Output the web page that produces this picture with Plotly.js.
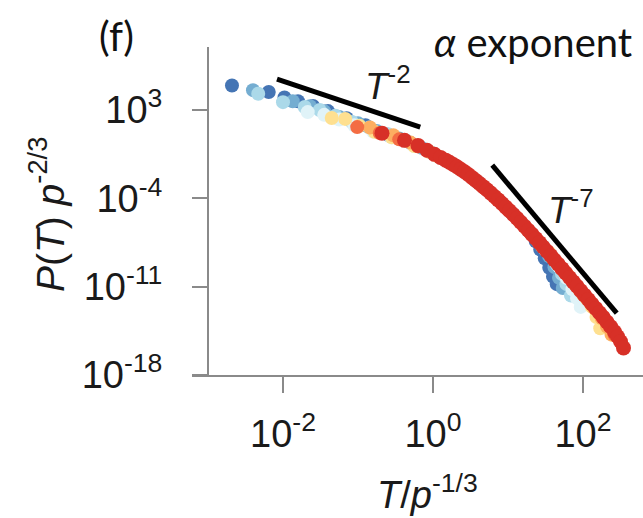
<!DOCTYPE html>
<html>
<head>
<meta charset="utf-8">
<script src="https://cdn.plot.ly/plotly-3.0.1.min.js"></script>
<style>
  html, body { margin: 0; padding: 0; background: #fff; }
  #chart { width: 643px; height: 518px; }
</style>
</head>
<body>
<div id="chart"></div>
<script>
// Scaling collapse of P(T) for several p values.
// Values are stored as base-10 exponents of T/p^-1/3 and P(T) p^-2/3.

const seriesColors = ['#4575b4', '#74add1', '#abd9e9', '#e0f3f8', '#fee090', '#fdae61', '#f46d43', '#d73027'];

const p1LogX = [-2.68, -2.19, -1.98, -1.80, -1.60, -1.40, -1.15, -0.90, -0.60, -0.30, 0.00, 0.30, 0.60, 0.90, 1.15, 1.30, 1.37, 1.43, 1.49, 1.55, 1.60, 1.65];
const p1LogY = [4.95, 4.43, 4.00, 3.70, 3.32, 2.92, 2.35, 1.80, 1.05, 0.40, -0.45, -1.42, -2.72, -4.28, -5.77, -6.75, -7.40, -8.05, -8.75, -9.50, -10.2, -10.8];

const p2LogX = [-2.40, -1.87, -1.64, -1.45, -1.25, -1.00, -0.75, -0.45, -0.15, 0.15, 0.45, 0.75, 1.05, 1.30, 1.45, 1.55, 1.62, 1.68, 1.73];
const p2LogY = [4.58, 3.70, 3.30, 2.90, 2.45, 1.95, 1.35, 0.75, 0.00, -0.91, -2.02, -3.48, -5.16, -6.72, -7.75, -8.60, -9.45, -10.3, -11.1];

const p3LogX = [-2.33, -2.00, -1.71, -1.51, -1.30, -1.08, -0.85, -0.60, -0.35, -0.05, 0.25, 0.55, 0.85, 1.15, 1.40, 1.55, 1.65, 1.72, 1.78, 1.84];
const p3LogY = [4.30, 3.63, 3.24, 3.00, 2.55, 2.05, 1.62, 1.08, 0.55, -0.28, -1.24, -2.48, -4.01, -5.77, -7.38, -8.40, -9.25, -10.0, -10.8, -11.7];

const p4LogX = [-1.67, -1.45, -1.25, -1.05, -0.80, -0.55, -0.25, 0.05, 0.35, 0.65, 0.95, 1.25, 1.50, 1.68, 1.78, 1.86, 1.92, 1.97];
const p4LogY = [2.84, 2.62, 2.25, 1.80, 1.30, 0.82, 0.15, -0.65, -1.65, -3.00, -4.60, -6.45, -8.10, -9.40, -10.3, -11.2, -11.9, -12.6];

const p5LogX = [-1.35, -1.17, -0.98, -0.78, -0.55, -0.25, 0.05, 0.35, 0.65, 0.95, 1.25, 1.55, 1.80, 1.95, 2.05, 2.12, 2.18, 2.23];
const p5LogY = [2.37, 2.30, 1.75, 1.28, 0.85, 0.15, -0.62, -1.62, -2.98, -4.58, -6.42, -8.30, -10.1, -11.2, -11.95, -12.6, -13.4, -14.3];

const p6LogX = [-0.84, -0.53, -0.30, -0.05, 0.25, 0.55, 0.85, 1.15, 1.45, 1.75, 2.00, 2.15, 2.25, 2.32, 2.38];
const p6LogY = [1.62, 1.01, 0.42, -0.30, -1.25, -2.50, -4.03, -5.80, -7.75, -9.80, -11.6, -12.7, -13.5, -14.15, -14.8];

const p7LogX = [-1.01, -0.71, -0.45, -0.20, 0.10, 0.40, 0.70, 1.00, 1.30, 1.60, 1.90, 2.10, 2.25, 2.35, 2.42];
const p7LogY = [1.65, 1.18, 0.68, 0.12, -0.77, -1.82, -3.24, -4.88, -6.74, -8.76, -10.85, -12.3, -13.3, -14.1, -14.8];

const p8LogX = [-0.68, -0.38, -0.20, -0.08, 0.02, 0.10, 0.17, 0.22, 0.27, 0.32,
  0.37, 0.42, 0.47, 0.52, 0.57, 0.62, 0.67, 0.72, 0.77, 0.82, 0.87, 0.92, 0.97,
  1.02, 1.07, 1.12, 1.17, 1.22, 1.27, 1.32, 1.37, 1.42, 1.47, 1.52, 1.57, 1.62,
  1.67, 1.72, 1.77, 1.82, 1.87, 1.92, 1.97, 2.02, 2.07, 2.12, 2.17, 2.22, 2.27,
  2.32, 2.37, 2.42, 2.46, 2.50, 2.54];
const p8LogY = [1.17, 0.60, 0.20, -0.19, -0.51, -0.75, -0.97, -1.14, -1.31, -1.49,
  -1.69, -1.89, -2.11, -2.34, -2.58, -2.82, -3.07, -3.32, -3.58, -3.85, -4.12, -4.40, -4.69,
  -4.98, -5.28, -5.58, -5.89, -6.21, -6.53, -6.85, -7.18, -7.51, -7.85, -8.19, -8.53, -8.88,
  -9.22, -9.57, -9.92, -10.27, -10.62, -10.97, -11.32, -11.67, -12.02, -12.37, -12.72, -13.07, -13.43,
  -13.80, -14.18, -14.58, -14.95, -15.35, -15.85];

// Power-law guides T^-2 and T^-7
const guide2LogX = [-2.08, -0.17];
const guide2LogY = [5.46, 1.65];
const guide7LogX = [0.79, 2.45];
const guide7LogY = [-1.37, -13.1];

const xTickVals = [1e-2, 1e0, 1e2];
const xTickText = ['10<sup>-2</sup>', '10<sup>0</sup>', '10<sup>2</sup>'];
const yTickVals = [1e3, 1e-4, 1e-11, 1e-18];
const yTickText = ['10<sup>3</sup>', '10<sup>-4</sup>', '10<sup>-11</sup>', '10<sup>-18</sup>'];

const pow10 = arr => arr.map(v => Math.pow(10, v));

const allSeries = [
  [p1LogX, p1LogY], [p2LogX, p2LogY], [p3LogX, p3LogY], [p4LogX, p4LogY],
  [p5LogX, p5LogY], [p6LogX, p6LogY], [p7LogX, p7LogY], [p8LogX, p8LogY]
];

const traces = allSeries.map((s, i) => ({
  type: 'scatter',
  mode: 'markers',
  x: pow10(s[0]),
  y: pow10(s[1]),
  marker: { color: seriesColors[i], size: i === 7 ? 15 : 14, line: { width: 0 } },
  hoverinfo: 'skip'
}));

traces.push({
  type: 'scatter', mode: 'lines',
  x: pow10(guide2LogX), y: pow10(guide2LogY),
  line: { color: '#000', width: 5 }, hoverinfo: 'skip'
});
traces.push({
  type: 'scatter', mode: 'lines',
  x: pow10(guide7LogX), y: pow10(guide7LogY),
  line: { color: '#000', width: 5 }, hoverinfo: 'skip'
});

const sans = 'Liberation Sans, Arial, sans-serif';
const tickFont = { family: sans, size: 38, color: '#1a1a1a' };
const axisGray = '#8a8a8a';

const layout = {
  width: 643,
  height: 518,
  margin: { l: 192, r: 0, t: 47, b: 143 },
  paper_bgcolor: '#fff',
  plot_bgcolor: '#fff',
  showlegend: false,
  xaxis: {
    type: 'log',
    range: [-3.213, 2.8],
    showgrid: false, zeroline: false,
    showline: true, linecolor: axisGray, linewidth: 2,
    ticks: 'outside', ticklen: 16, tickwidth: 2, tickcolor: axisGray,
    tickvals: xTickVals, ticktext: xTickText,
    tickfont: tickFont,
    ticklabelstandoff: 8
  },
  yaxis: {
    type: 'log',
    range: [-18, 8],
    anchor: 'free',
    position: 0.0355,
    showgrid: false, zeroline: false,
    showline: true, linecolor: axisGray, linewidth: 2,
    ticks: 'outside', ticklen: 15, tickwidth: 2, tickcolor: axisGray,
    tickvals: yTickVals, ticktext: yTickText,
    tickfont: tickFont,
    ticklabelstandoff: 22
  },
  annotations: [
    {
      xref: 'paper', yref: 'paper', x: 0.522, y: -0.358,
      xanchor: 'center', yanchor: 'middle', showarrow: false,
      text: '<i>T</i>/<i>p</i><sup>-1/3</sup>',
      font: { family: sans, size: 38, color: '#1a1a1a' }
    },
    {
      xref: 'paper', yref: 'paper', x: -0.322, y: 0.49,
      xanchor: 'center', yanchor: 'middle', showarrow: false, textangle: -90,
      text: '<i>P</i>(<i>T</i>) <i>p</i><sup>-2/3</sup>',
      font: { family: sans, size: 39, color: '#1a1a1a' }
    },
    {
      xref: 'paper', yref: 'paper', x: -0.1685, y: 1.035,
      xanchor: 'center', yanchor: 'middle', showarrow: false,
      text: '(f)',
      font: { family: 'Lato, sans-serif', size: 40, color: '#111' }
    },
    {
      xref: 'paper', yref: 'paper', x: 0.756, y: 1.015,
      xanchor: 'center', yanchor: 'middle', showarrow: false,
      text: '<i>α</i> exponent',
      font: { family: 'Lato, sans-serif', size: 40, color: '#111' }
    },
    {
      xref: 'x', yref: 'y', x: -0.6, y: 5.14,
      xanchor: 'center', yanchor: 'middle', showarrow: false,
      text: '<i>T</i><sup>-2</sup>',
      font: { family: sans, size: 37, color: '#1a1a1a' }
    },
    {
      xref: 'x', yref: 'y', x: 1.84, y: -4.7,
      xanchor: 'center', yanchor: 'middle', showarrow: false,
      text: '<i>T</i><sup>-7</sup>',
      font: { family: sans, size: 37, color: '#1a1a1a' }
    }
  ]
};

Plotly.newPlot('chart', traces, layout, { displayModeBar: false, staticPlot: true });
</script>
</body>
</html>
